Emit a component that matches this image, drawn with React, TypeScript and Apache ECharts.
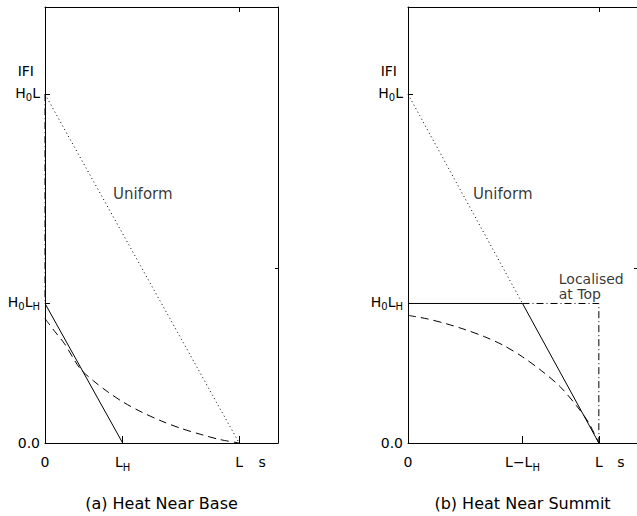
import React, { useEffect, useRef } from "react";
import * as echarts from "echarts";

// ---- data (L = 1, H0 = 1, L_H = 0.4) ----
const uniformA = [[0, 1], [1, 0]];
const nearBaseA = [[0, 0.4], [0.4, 0]];
const localBaseA = [[0, 1], [0, 0.4]];
const dashedAs = [0, 0.05, 0.1, 0.18, 0.25, 0.32, 0.4, 0.5, 0.6, 0.7, 0.8, 0.9, 1.0];
const dashedAF = [0.357, 0.32, 0.285, 0.214, 0.178, 0.148, 0.118, 0.088, 0.063, 0.042, 0.025, 0.01, 0];

const uniformB = [[0, 1], [0.6, 0.4]];
const nearSummitB = [[0, 0.4], [0.6, 0.4], [1, 0]];
const localTopB = [[0.6, 0.4], [1, 0.4], [1, 0]];
const dashedBs = [0, 0.1, 0.2, 0.3, 0.4, 0.5, 0.6, 0.7, 0.8, 0.9, 0.95, 1];
const dashedBF = [0.366, 0.356, 0.342, 0.325, 0.305, 0.28, 0.247, 0.207, 0.16, 0.095, 0.055, 0];

const xLabelValsA = [0, 0.4, 1, 1.118];
const xLabelsA = ["{m|0}", "{m|L}{s|H}", "{m|L}", "{m|s}"];
const xLabelValsB = [0, 0.6, 1, 1.115];
const xLabelsB = ["{m|0}", "{m|L−L}{s|H}", "{m|L}", "{m|s}"];
const xTickVals = [[0.4, 1], [0.6, 1]];
const yLabelVals = [0, 0.4, 1, 1.066];
const yLabels = ["{m|0.0}", "{m|H}{s|0}{m|L}{s|H}", "{m|H}{s|0}{m|L}", "{i|IFI}"];
const yTickVals = [0.4, 1];
const topTickVals = [1];
const rightTickVals = [0.5];
const captions = ["(a) Heat Near Base", "(b) Heat Near Summit"];
const uniformLabelPos = [[0.35, 0.714], [0.34, 0.714]];
const localisedLabelPos = [0.79, 0.45];

const FONT = "DejaVu Sans";
const BLACK = "#000";

const rich = {
  m: { fontSize: 14, lineHeight: 14, verticalAlign: "top", fontFamily: FONT, color: BLACK },
  s: { fontSize: 10, lineHeight: 17, verticalAlign: "bottom", fontFamily: FONT, color: BLACK },
  i: { fontSize: 14, lineHeight: 14, verticalAlign: "top", padding: [0, 6, 0, 0], fontFamily: FONT, color: BLACK },
};

function zip(a: number[], b: number[]) {
  return a.map((v, i) => [v, b[i]]);
}

export default function App() {
  const ref = useRef<HTMLDivElement>(null);
  useEffect(() => {
    document.body.style.margin = "0";
    const chart = echarts.init(ref.current!, undefined, { renderer: "svg" });
    const grids = [
      { left: 45, top: 7, width: 233, height: 438 },
      { left: 408, top: 7, width: 233, height: 438 },
    ];
    const xLabelVals = [xLabelValsA, xLabelValsB];
    const xLabels = [xLabelsA, xLabelsB];
    const axisLine = { show: true, onZero: false, lineStyle: { color: BLACK, width: 1 } };
    const xAxis: any[] = [];
    const yAxis: any[] = [];
    [0, 1].forEach((g) => {
      xAxis.push({
        type: "value", gridIndex: g, min: 0, max: 1.2, position: "bottom",
        axisLine,
        splitLine: { show: false },
        axisTick: { show: true, inside: true, length: 7, customValues: xTickVals[g], lineStyle: { color: BLACK } },
        axisLabel: {
          show: true, margin: 12, customValues: xLabelVals[g], rich,
          formatter: (v: number) => xLabels[g][xLabelVals[g].indexOf(v)] ?? "",
        },
        name: captions[g], nameLocation: "middle", nameGap: 52,
        nameTextStyle: { fontFamily: FONT, fontSize: 16, color: BLACK },
      });
      xAxis.push({
        type: "value", gridIndex: g, min: 0, max: 1.2, position: "top",
        axisLine, splitLine: { show: false },
        axisTick: { show: true, inside: true, length: 5, customValues: topTickVals, lineStyle: { color: BLACK } },
        axisLabel: { show: false },
      });
      yAxis.push({
        type: "value", gridIndex: g, min: 0, max: 1.25, position: "left",
        axisLine, splitLine: { show: false },
        axisTick: { show: true, inside: true, length: 5, customValues: yTickVals, lineStyle: { color: BLACK } },
        axisLabel: {
          show: true, margin: 5, customValues: yLabelVals, rich,
          formatter: (v: number) => yLabels[yLabelVals.indexOf(v)] ?? "",
        },
      });
      yAxis.push({
        type: "value", gridIndex: g, min: 0, max: 1.25, position: "right",
        axisLine, splitLine: { show: false },
        axisTick: { show: true, inside: true, length: 3, customValues: rightTickVals, lineStyle: { color: BLACK } },
        axisLabel: { show: false },
      });
    });

    const line = (g: number, data: number[][], type: any) => ({
      type: "line", xAxisIndex: g * 2, yAxisIndex: g * 2, data, symbol: "none",
      lineStyle: { color: BLACK, width: 1, type, cap: "butt" }, silent: true,
    });
    const textMark = (g: number, pos: number[], text: string, size: number, lh: number) => ({
      type: "scatter", xAxisIndex: g * 2, yAxisIndex: g * 2, data: [pos], symbolSize: 0, silent: true,
      label: {
        show: true, formatter: text, position: [0, 0], align: "left", verticalAlign: "middle",
        fontFamily: FONT, fontSize: size, lineHeight: lh, color: BLACK,
      },
    });

    chart.setOption({
      animation: false,
      grid: grids,
      xAxis, yAxis,
      series: [
        line(0, uniformA, [1, 3]),
        line(0, nearBaseA, "solid"),
        line(0, localBaseA, [7, 3, 1, 3]),
        { ...line(0, zip(dashedAs, dashedAF), [8, 5]), smooth: 0.3 },
        textMark(0, uniformLabelPos[0], "Uniform", 15, 15),
        line(1, uniformB, [1, 3]),
        line(1, nearSummitB, "solid"),
        line(1, localTopB, [7, 3, 1, 3]),
        { ...line(1, zip(dashedBs, dashedBF), [8, 5]), smooth: 0.3 },
        textMark(1, uniformLabelPos[1], "Uniform", 15, 15),
        textMark(1, localisedLabelPos, "Localised\nat Top", 14, 15),
      ],
    });
    return () => chart.dispose();
  }, []);
  return <div ref={ref} style={{ position: "absolute", left: 0, top: 0, width: 637, height: 516, background: "#fff" }} />;
}
